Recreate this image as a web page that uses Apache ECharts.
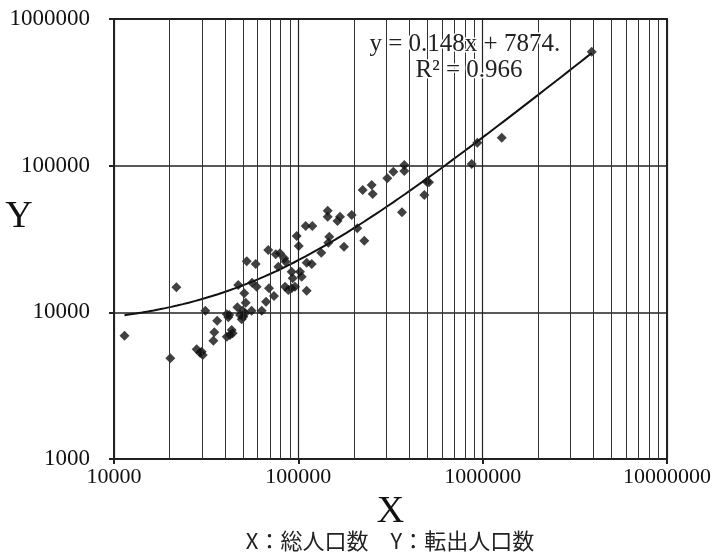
<!DOCTYPE html>
<html>
<head>
<meta charset="utf-8">
<script src="https://cdn.jsdelivr.net/npm/echarts@6/dist/echarts.min.js"></script>
<style>html,body{margin:0;padding:0;background:#fff}#c{width:720px;height:558px}</style>
</head>
<body>
<div id="c"></div>
<script>
// X: total population, Y: out-migrants
const xValues = [
  11400, 21800, 20200, 28100, 29300, 30300, 29900, 31300, 34600, 35000,
  36300, 40900, 41700, 42200, 40900, 42600, 44000, 43500, 46700, 47200,
  48300, 49300, 50300, 51400, 49900, 50900, 51800, 52500, 55800, 56100,
  58700, 59400, 63300, 66800, 68700, 69300, 73800, 75400, 79500, 77900,
  83900, 85400, 84700, 88200, 92000, 95900, 92000, 93200, 98000, 100500,
  102100, 104300, 111000, 118200, 111000, 109600, 119100, 133200, 147200, 145400,
  176900, 208900, 228000, 144300, 144300, 163100, 168300, 194800, 223500, 250000,
  253200, 303900, 327500, 365100, 375800, 375800, 482500, 497100, 511600, 871800,
  935200, 1269000, 3905000
];
const yValues = [
  6930, 14800, 4860, 5600, 5310, 5120, 5390, 10260, 6410, 7310,
  8770, 9700, 9250, 9590, 6820, 7010, 7200, 7580, 10820, 15360,
  9590, 8960, 9340, 9850, 10260, 13480, 11630, 22280, 10260, 15930,
  21360, 14950, 10260, 11820, 26610, 14580, 12920, 24870, 25260, 20480,
  23360, 22140, 14950, 14200, 14580, 14950, 18930, 17070, 33160, 28340,
  18930, 17500, 21790, 21360, 14050, 38790, 38790, 25500, 32800, 29840,
  28030, 37410, 30790, 49320, 44880, 41960, 44880, 46090, 68260, 73830,
  64110, 82000, 90970, 48090, 101100, 91990, 63100, 77740, 77010, 102700,
  143400, 155100, 598400
];
const trendSlope = 0.148;
const trendIntercept = 7874;
const trendLabel = 'y = 0.148x + 7874.';
const r2Label = 'R² = 0.966';
const xAxisMin = 10000, xAxisMax = 10000000;
const yAxisMin = 1000, yAxisMax = 1000000;
const xName = 'X', yName = 'Y';
const subtitle = 'X：総人口数　Y：転出人口数';

const points = xValues.map((x, i) => [x, yValues[i]]);

// trend line from its stated equation, across the observed x range
const xMinObs = Math.min(...xValues), xMaxObs = Math.max(...xValues);
const trend = [];
const nT = 80;
for (let i = 0; i <= nT; i++) {
  const lx = Math.log10(xMinObs) + (Math.log10(xMaxObs) - Math.log10(xMinObs)) * i / nT;
  const x = Math.pow(10, lx);
  trend.push([x, trendSlope * x + trendIntercept]);
}

// vertical grid lines at 2..9 multiples within each decade
const minorGridX = [];
for (let d = xAxisMin; d < xAxisMax; d *= 10) {
  for (let m = 2; m <= 9; m++) minorGridX.push(d * m);
}

const serif = '"Liberation Serif", "DejaVu Serif", serif';
const chart = echarts.init(document.getElementById('c'), null, {renderer: 'canvas'});
chart.setOption({
  animation: false,
  backgroundColor: '#fff',
  grid: {left: 114, right: 53, top: 19, bottom: 99, show: true, borderColor: '#222', borderWidth: 2,
    containLabel: false, outerBoundsMode: 'none'},
  xAxis: {
    type: 'log', logBase: 10, min: xAxisMin, max: xAxisMax,
    name: xName, nameLocation: 'middle', nameGap: 30,
    nameTextStyle: {fontFamily: serif, fontSize: 38, color: '#111'},
    axisLine: {show: true, onZero: false, lineStyle: {color: '#222', width: 2}},
    axisTick: {show: true, inside: false, length: 5, lineStyle: {color: '#222', width: 2}},
    axisLabel: {fontFamily: serif, fontSize: 22, color: '#111', margin: 7,
      formatter: v => String(Math.round(v))},
    splitLine: {show: true, lineStyle: {color: '#222', width: 1.2}},
    minorTick: {show: false}, minorSplitLine: {show: false}
  },
  yAxis: {
    type: 'log', logBase: 10, min: yAxisMin, max: yAxisMax,
    axisLine: {show: true, onZero: false, lineStyle: {color: '#222', width: 2}},
    axisTick: {show: true, inside: false, length: 5, lineStyle: {color: '#222', width: 2}},
    axisLabel: {fontFamily: serif, fontSize: 23, color: '#111', margin: 24,
      formatter: v => String(Math.round(v))},
    splitLine: {show: true, lineStyle: {color: '#222', width: 1.6}}
  },
  series: [
    {
      type: 'line', data: [], z: 1, silent: true,
      markLine: {
        silent: true, symbol: ['none', 'none'], animation: false,
        label: {show: false},
        lineStyle: {color: '#333', width: 1, type: 'solid'},
        emphasis: {disabled: true},
        data: minorGridX.map(v => ({xAxis: v}))
      }
    },
    {
      type: 'line', data: trend, showSymbol: false, symbol: 'none', z: 3,
      lineStyle: {color: '#111', width: 2}, smooth: false
    },
    {
      type: 'scatter', data: points, symbol: 'diamond', symbolSize: 10, z: 4,
      itemStyle: {color: '#111'}
    }
  ],
  graphic: [
    {type: 'text', x: 19, y: 217, z: 10,
      style: {text: yName, align: 'center', verticalAlign: 'middle',
        fontFamily: serif, fontSize: 38, fill: '#111'}},
    {type: 'text', left: 368, top: 30, z: 10,
      style: {text: trendLabel, fontFamily: serif, fontSize: 25, fill: '#222',
        stroke: '#fff', lineWidth: 3}},
    {type: 'text', left: 414, top: 56, z: 10,
      style: {text: r2Label, fontFamily: serif, fontSize: 25, fill: '#222',
        stroke: '#fff', lineWidth: 3}},
    {type: 'text', x: 390, y: 541, z: 10,
      style: {text: subtitle, align: 'center', verticalAlign: 'middle',
        fontFamily: '"Noto Sans CJK JP", sans-serif', fontSize: 22, fill: '#222'}}
  ]
});
</script>
</body>
</html>
